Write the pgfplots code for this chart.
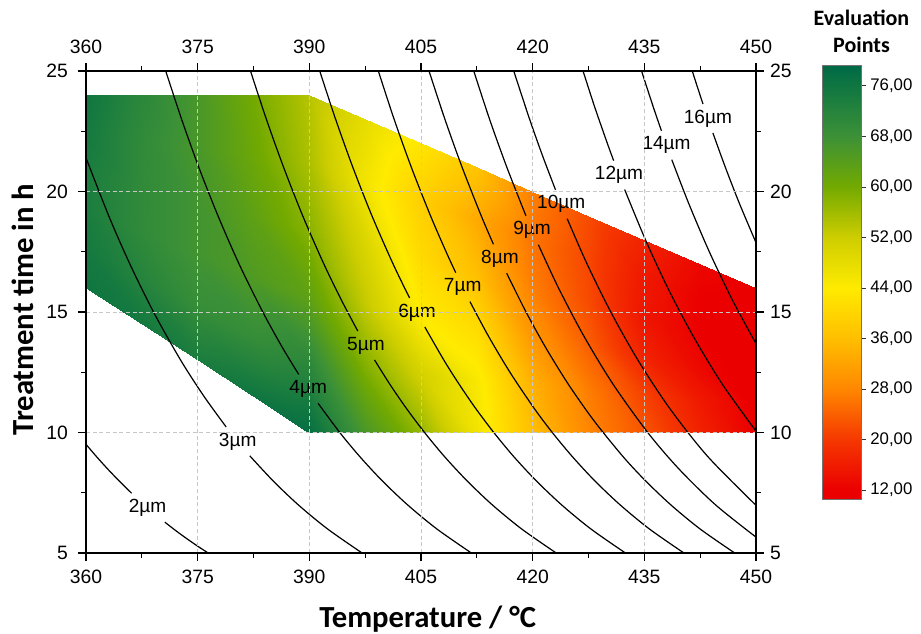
\documentclass[border=0pt]{standalone}
\usepackage{fontspec}
\setmainfont{Liberation Sans}
\newfontfamily\calfont{Carlito}
\usepackage{pgfplots}
\pgfplotsset{compat=1.18}

\pgfplotsset{
  colormap={evalmap}{
    rgb255(106)=(235,0,0)
    rgb255(120)=(235,0,0)
    rgb255(200)=(245,55,0)
    rgb255(280)=(255,135,0)
    rgb255(360)=(255,190,0)
    rgb255(440)=(255,235,0)
    rgb255(520)=(205,205,0)
    rgb255(600)=(115,170,0)
    rgb255(680)=(60,145,55)
    rgb255(760)=(15,118,65)
    rgb255(793)=(0,105,70)
  },
  cline/.style={black, line width=0.9pt, smooth},
}
\tikzset{ctext/.style={font=\fontsize{14.3}{17}\selectfont, inner sep=1pt}}

\begin{document}
\begin{tikzpicture}
\path[use as bounding box] (-64.5pt,-60pt) rectangle (626.25pt,414.75pt);

\begin{axis}[
  at={(0,0)}, anchor=south west,
  scale only axis, width=502.5pt, height=361.5pt,
  xmin=360, xmax=450, ymin=5, ymax=25,
  xtick={360,375,...,450}, ytick={5,10,...,25},
  minor x tick num=1, minor y tick num=1,
  tick align=outside, major tick length=6pt, minor tick length=3.4pt,
  grid=major, major grid style={densely dashed, black!22, line width=0.5pt},
  axis line style={line width=0.9pt},
  tick style={line width=0.9pt, black},
  axis on top,
  tick label style={font=\fontsize{14.5}{17}\selectfont},
  xticklabel style={yshift=-3.5pt},
  yticklabel style={xshift=-4pt},
  /pgf/number format/assume math mode=true,
  xlabel={Temperature / °C}, ylabel={Treatment time in h},
  label style={font=\calfont\bfseries\fontsize{23}{27}\selectfont},
  xlabel style={at={(axis description cs:0.510,0)}, anchor=base, yshift=-55.5pt},
  ylabel style={at={(axis description cs:-0.0948,0.505)}, anchor=center},
  colormap name=evalmap,
  point meta min=10.6, point meta max=79.3,
]
\addplot[surf, shader=interp, point meta=explicit, mesh/cols=6] table[x=x, y=y, meta=c] {
x y c
360 16 76
360 17.6 75
360 19.2 74
360 20.8 74
360 22.4 75
360 24 76
367.5 14.5 75
367.5 16.4 72
367.5 18.3 70
367.5 20.2 70
367.5 22.1 70
367.5 24 71
375 13 74
375 15.2 69
375 17.4 67
375 19.6 67
375 21.8 66
375 24 66
382.5 11.5 76
382.5 14 69
382.5 16.5 65
382.5 19 63
382.5 21.5 61
382.5 24 60
390 10 78
390 12.8 71
390 15.6 63
390 18.4 58
390 21.2 55
390 24 54
397.5 10 66
397.5 12.6 59
397.5 15.2 53
397.5 17.8 50
397.5 20.4 46
397.5 23 48
405 10 57
405 12.4 51
405 14.8 44
405 17.2 41
405 19.6 39
405 22 43
412.5 10 46
412.5 12.2 45
412.5 14.4 41
412.5 16.6 36
412.5 18.8 33
412.5 21 37
420 10 36
420 12 34
420 14 30
420 16 27
420 18 26
420 20 27
427.5 10 28
427.5 11.8 27
427.5 13.6 24
427.5 15.4 22
427.5 17.2 21.5
427.5 19 22
435 10 23
435 11.6 21
435 13.2 17
435 14.8 15
435 16.4 15.5
435 18 17
442.5 10 17
442.5 11.4 15.5
442.5 12.8 13
442.5 14.2 12
442.5 15.6 12
442.5 17 13
450 10 12
450 11.2 11.5
450 12.4 11
450 13.6 11
450 14.8 11
450 16 11
};

% 2 um
\addplot[cline] coordinates {(360.0,9.51) (361.41,9.0) (362.87,8.5) (364.42,8.0) (366.13,7.48)};
\addplot[cline] coordinates {(370.59,6.28) (372.18,5.9) (373.52,5.6) (374.92,5.3) (376.41,5.0)};
% 3 um
\addplot[cline] coordinates {(360.0,21.4) (363.04,19) (365.88,17) (369.07,15) (372.72,13) (375.85,11.5) (378.83,10.23)};
\addplot[cline] coordinates {(382.01,9.03) (385.11,8) (388.51,7) (392.44,6) (397.09,5)};
% 4 um
\addplot[cline] coordinates {(370.71,25) (372.84,23) (375.16,21) (377.72,19) (380.55,17) (383.75,15) (386.43,13.5) (388.58,12.41)};
\addplot[cline] coordinates {(391.18,11.21) (394.09,10) (396.78,9) (399.78,8) (403.19,7) (407.12,6) (411.77,5)};
% 5 um
\addplot[cline] coordinates {(382.1,25) (384.23,23) (386.55,21) (389.10,19) (391.94,17) (394.30,15.5) (396.51,14.21)};
\addplot[cline] coordinates {(398.76,13.01) (400.82,12) (403.04,11) (405.48,10) (408.16,9) (411.17,8) (414.57,7) (418.51,6) (423.16,5)};
% 6 um
\addplot[cline] coordinates {(391.40,25) (393.53,23) (395.85,21) (398.40,19) (401.24,17) (403.47,15.58)};
\addplot[cline] coordinates {(405.51,14.38) (408.08,13) (410.13,12) (412.34,11) (414.78,10) (417.46,9) (420.47,8) (423.88,7) (427.81,6) (432.46,5)};
% 7 um
\addplot[cline] coordinates {(399.27,25) (401.39,23) (403.71,21) (406.27,19) (408.37,17.5) (409.67,16.63)};
\addplot[cline] coordinates {(411.58,15.43) (414.06,14) (416.95,12.5) (420.21,11) (422.64,10) (425.33,9) (428.33,8) (431.74,7) (435.67,6) (440.32,5)};
% 8 um
\addplot[cline] coordinates {(406.08,25) (408.21,23) (410.53,21) (413.08,19) (414.73,17.81)};
\addplot[cline] coordinates {(416.51,16.61) (419.11,15) (421.80,13.5) (424.80,12) (428.21,10.5) (432.14,9) (435.15,8) (438.55,7) (442.48,6) (447.14,5)};
% 9 um
\addplot[cline] coordinates {(412.09,25) (414.21,23) (416.54,21) (419.10,18.99)};
\addplot[cline] coordinates {(420.77,17.79) (423.47,16) (426.88,14) (430.81,12) (435.46,10) (439.61,8.5) (444.56,7) (450,5.66)};
% 10 um
\addplot[cline] coordinates {(417.46,25) (419.59,23) (421.31,21.5) (423.07,20.07)};
\addplot[cline] coordinates {(424.64,18.87) (427.30,17) (430.50,15) (434.15,13) (438.41,11) (443.53,9) (450,6.98)};
% 12 um
\addplot[cline] coordinates {(426.77,25) (428.34,23.5) (430.03,22) (430.88,21.28)};
\addplot[cline] coordinates {(432.36,20.08) (435.15,18) (438.15,16) (441.56,14) (445.49,12) (450,10.06)};
% 14 um
\addplot[cline] coordinates {(434.63,25) (436.21,23.5) (437.30,22.52)};
\addplot[cline] coordinates {(438.69,21.32) (440.97,19.5) (443.73,17.5) (446.83,15.5) (450,13.69)};
% 16 um
\addplot[cline] coordinates {(441.44,25) (441.96,24.5) (442.88,23.63)};
\addplot[cline] coordinates {(444.21,22.43) (445.89,21) (447.78,19.5) (450,17.88)};

\node[ctext] at (axis cs:368.27,6.88) {2µm};
\node[ctext] at (axis cs:380.38,9.63) {3µm};
\node[ctext] at (axis cs:389.85,11.81) {4µm};
\node[ctext] at (axis cs:397.61,13.61) {5µm};
\node[ctext] at (axis cs:404.47,14.98) {6µm};
\node[ctext] at (axis cs:410.60,16.03) {7µm};
\node[ctext] at (axis cs:415.61,17.21) {8µm};
\node[ctext] at (axis cs:419.92,18.39) {9µm};
\node[ctext] at (axis cs:423.84,19.47) {10µm};
\node[ctext] at (axis cs:431.60,20.68) {12µm};
\node[ctext] at (axis cs:437.99,21.92) {14µm};
\node[ctext] at (axis cs:443.54,23.03) {16µm};
\end{axis}

% top and right tick labels
\begin{axis}[
  at={(0,0)}, anchor=south west,
  scale only axis, width=502.5pt, height=361.5pt,
  xmin=360, xmax=450, ymin=5, ymax=25,
  xtick={360,375,...,450}, ytick={5,10,...,25},
  xticklabel pos=upper, yticklabel pos=right,
  tick align=outside, major tick length=6pt,
  tick style={draw=none}, axis line style={draw=none},
  tick label style={font=\fontsize{14.5}{17}\selectfont},
  xticklabel style={yshift=3.5pt},
  yticklabel style={xshift=1pt},
  /pgf/number format/assume math mode=true,
]
\end{axis}

% colour scale
\begin{axis}[
  at={(552.5pt,40.5pt)}, anchor=south west,
  scale only axis, width=29.25pt, height=325.5pt,
  xmin=0, xmax=1, ymin=10.6, ymax=79.3,
  xtick=\empty,
  ytick={12,20,28,36,44,52,60,68,76},
  yticklabels={{12,00},{20,00},{28,00},{36,00},{44,00},{52,00},{60,00},{68,00},{76,00}},
  ytick pos=right, yticklabel pos=right,
  tick align=outside, major tick length=3pt,
  tick style={black!80, line width=0.6pt},
  yticklabel style={font=\fontsize{12.6}{15}\selectfont},
  axis line style={black!55, line width=0.6pt},
  axis on top,
  colormap name=evalmap,
  point meta min=10.6, point meta max=79.3,
]
\addplot[surf, shader=interp, point meta=y, mesh/cols=2] coordinates {
(0,10.6) (1,10.6) (0,12) (1,12) (0,20) (1,20) (0,28) (1,28) (0,36) (1,36)
(0,44) (1,44) (0,52) (1,52) (0,60) (1,60) (0,68) (1,68) (0,76) (1,76) (0,79.3) (1,79.3)};
\end{axis}

\node[font=\calfont\bfseries\fontsize{16.5}{20}\selectfont, align=center] at (581.6pt,391.1pt) {Evaluation\\Points};
\end{tikzpicture}
\end{document}
